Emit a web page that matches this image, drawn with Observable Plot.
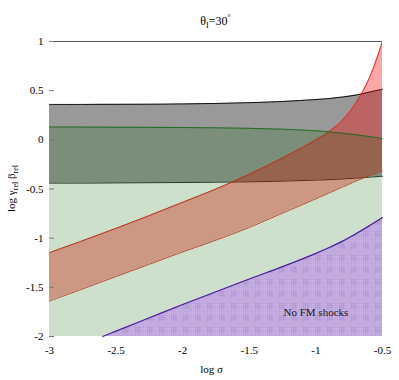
<!DOCTYPE html>
<html><head><meta charset="utf-8">
<script src="https://cdn.jsdelivr.net/npm/d3@7"></script>
<script src="https://cdn.jsdelivr.net/npm/@observablehq/plot@0.6"></script>
<style>body{margin:0;background:#fff} svg{display:block} svg text{font-family:"Liberation Serif","DejaVu Serif","Times New Roman",serif}</style>
</head><body><div id="chart"></div>
<script>
// log sigma sampling
const sigma      = [-3, -2.75, -2.5, -2.25, -2, -1.75, -1.5, -1.25, -1, -0.9, -0.8, -0.7, -0.6, -0.5];
const grayTop    = [0.36, 0.36, 0.361, 0.362, 0.365, 0.37, 0.378, 0.39, 0.41, 0.42, 0.435, 0.455, 0.485, 0.515];
const grayBottom = [-0.44, -0.44, -0.438, -0.436, -0.434, -0.431, -0.427, -0.42, -0.41, -0.405, -0.398, -0.39, -0.38, -0.37];
const greenTop   = [0.13, 0.13, 0.128, 0.127, 0.125, 0.122, 0.117, 0.108, 0.092, 0.08, 0.068, 0.052, 0.033, 0.012];
const redUpper   = [-1.147, -1.025, -0.9, -0.77, -0.635, -0.5, -0.35, -0.185, 0.0, 0.085, 0.2, 0.375, 0.625, 1.0];
const redLower   = [-1.64, -1.515, -1.39, -1.265, -1.14, -1.02, -0.89, -0.745, -0.6, -0.54, -0.48, -0.42, -0.365, -0.315];
const purpleSigma = [-2.6, -2.5, -2.25, -2, -1.75, -1.5, -1.25, -1, -0.9, -0.8, -0.7, -0.6, -0.5];
const purpleTop   = [-2, -1.945, -1.81, -1.675, -1.545, -1.415, -1.29, -1.155, -1.095, -1.03, -0.955, -0.875, -0.79];
const xTicks = [-3, -2.5, -2, -1.5, -1, -0.5];
const yTicks = [1, 0.5, 0, -0.5, -1, -1.5, -2];
const xDomain = [-3, -0.5];
const yDomain = [-2, 1];
const noteLabel = [{s: -1.0, y: -1.753, t: "No FM shocks"}];

const base = yDomain[0];
const rows = sigma.map((s, i) => ({s, gTop: grayTop[i], gBot: grayBottom[i], grn: greenTop[i], rUp: redUpper[i], rLo: redLower[i], base}));
const prow = purpleSigma.map((s, i) => ({s, p: purpleTop[i], base}));
const curve = "catmull-rom";
const font = "Liberation Serif, DejaVu Serif, Times New Roman, serif";
const fmt = d => String(d);

const plot = Plot.plot({
  width: 399, height: 380,
  marginLeft: 49, marginRight: 17, marginTop: 41, marginBottom: 44,
  style: {fontFamily: font, fontSize: "11px", background: "#fff", color: "#000"},
  x: {domain: xDomain},
  y: {domain: yDomain},
  marks: [
    Plot.areaY(rows, {x: "s", y1: "gBot", y2: "gTop", fill: "#999999", curve}),
    Plot.lineY(rows, {x: "s", y: "gTop", stroke: "#111", strokeWidth: 1, curve}),
    Plot.lineY(rows, {x: "s", y: "gBot", stroke: "#111", strokeWidth: 1, strokeDasharray: "1,1", curve}),
    Plot.areaY(rows, {x: "s", y1: "rLo", y2: "rUp", fill: "#ff0000", fillOpacity: 0.35, curve, clip: true}),
    Plot.lineY(rows, {x: "s", y: "rUp", stroke: "#e8261e", strokeWidth: 1, curve, clip: true}),
    Plot.lineY(rows, {x: "s", y: "rLo", stroke: "#e8261e", strokeWidth: 1, strokeDasharray: "1,1", curve}),
    Plot.areaY(rows, {x: "s", y1: "base", y2: "grn", fill: "#006400", fillOpacity: 0.2, curve}),
    Plot.lineY(rows, {x: "s", y: "grn", stroke: "#1f6b1f", strokeWidth: 1, curve}),
    Plot.areaY(prow, {x: "s", y1: "base", y2: "p", fill: "url(#fmPattern)", curve}),
    Plot.lineY(prow, {x: "s", y: "p", stroke: "#4b1e9a", strokeWidth: 1.2, curve}),
    Plot.text(noteLabel, {x: "s", y: "y", text: "t", fontSize: 11, fill: "#111", fontFamily: font}),
    Plot.ruleY([yDomain[1]], {stroke: "#555", strokeWidth: 1}),
    Plot.axisX({ticks: xTicks, tickSize: 0, tickPadding: 10, tickFormat: fmt, label: null}),
    Plot.axisY({ticks: yTicks, tickSize: 0, tickPadding: 6, tickFormat: fmt, label: null}),
    Plot.axisY({ticks: yTicks, tickSize: 5, dx: 5, stroke: "#777", tickFormat: () => "", label: null})
  ]
});

const svg = d3.select(plot);
const defs = svg.insert("defs", ":first-child");
const pat = defs.append("pattern").attr("id", "fmPattern").attr("patternUnits", "userSpaceOnUse")
  .attr("width", 12).attr("height", 12);
pat.append("rect").attr("width", 12).attr("height", 12).attr("fill", "#c0a6de");
pat.append("rect").attr("x", 3).attr("y", 3).attr("width", 6).attr("height", 6).attr("fill", "#b598d8");
for (let i = 0; i < 12; i += 2) for (let j = 0; j < 12; j += 2)
  pat.append("rect").attr("x", i).attr("y", j).attr("width", 1).attr("height", 1).attr("fill", "#d6c6ec").attr("opacity", 0.5);

const xs = plot.scale("x"), ys = plot.scale("y");
const cx = (xs.range[0] + xs.range[1]) / 2;

const title = svg.append("text").attr("x", cx).attr("y", 25).attr("text-anchor", "middle")
  .attr("font-family", font).attr("font-size", 12);
title.append("tspan").text("θ");
title.append("tspan").attr("dy", 3).attr("font-size", 8).text("I");
title.append("tspan").attr("dy", -3).text("=30");
title.append("tspan").attr("dy", -5).attr("font-size", 8).text("°");

svg.append("text").attr("x", cx - 4).attr("y", 373).attr("text-anchor", "middle")
  .attr("font-family", font).attr("font-size", 11).text("log σ");

const yl = svg.append("text").attr("transform", `translate(15,${(ys.range[0] + ys.range[1]) / 2}) rotate(-90)`)
  .attr("text-anchor", "middle").attr("font-family", font).attr("font-size", 11);
yl.append("tspan").text("log γ");
yl.append("tspan").attr("dy", 3).attr("font-size", 8).text("rel");
yl.append("tspan").attr("dy", -3).text(" β");
yl.append("tspan").attr("dy", 3).attr("font-size", 8).text("rel");

document.getElementById("chart").appendChild(plot);
</script>
</body></html>
